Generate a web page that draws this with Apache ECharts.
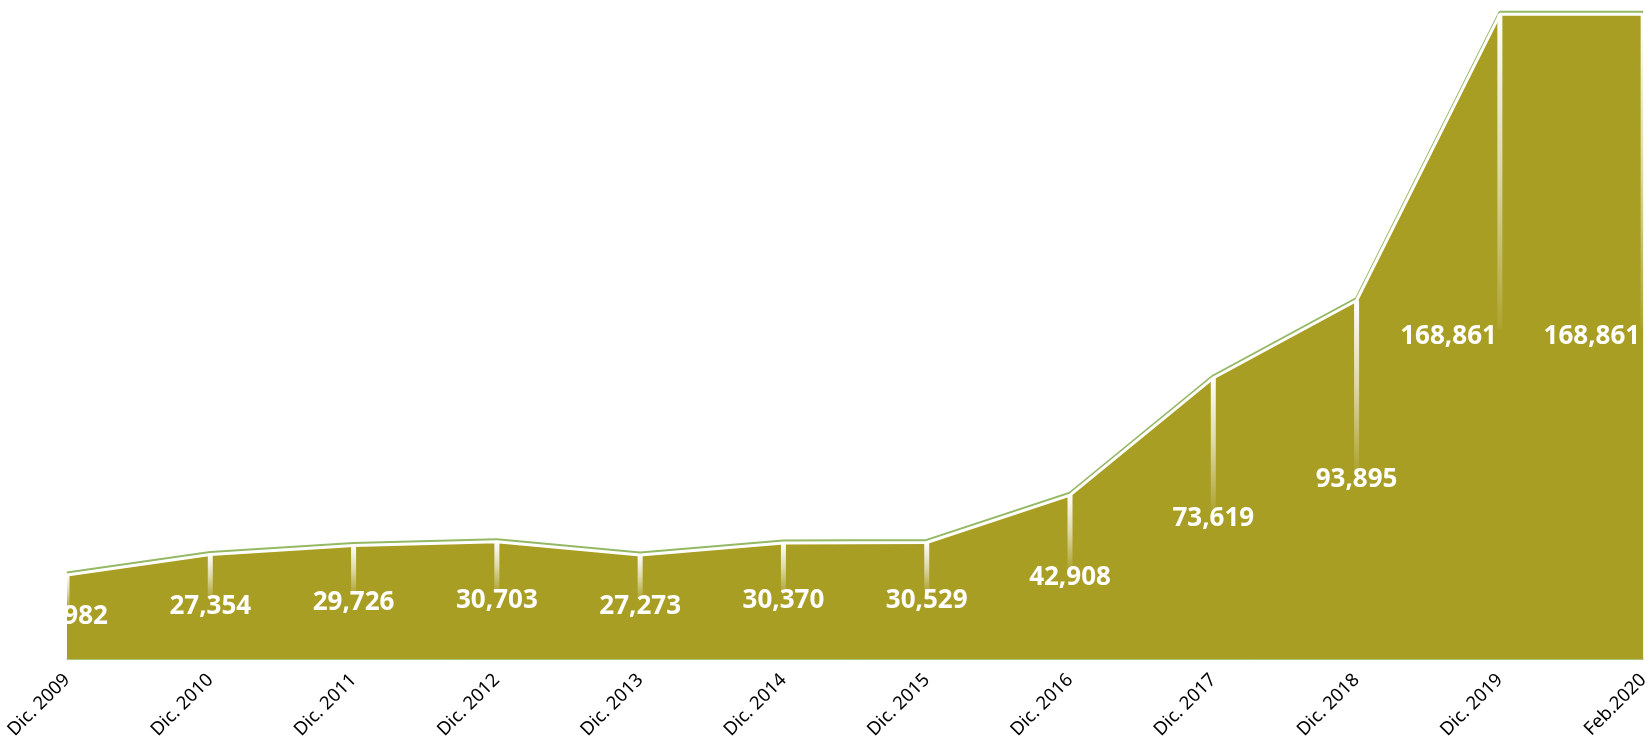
<!DOCTYPE html>
<html>
<head>
<meta charset="utf-8">
<script src="https://cdn.jsdelivr.net/npm/echarts@6/dist/echarts.min.js"></script>
<style>
html,body{margin:0;padding:0;background:#fff;}
#chart{width:1652px;height:742px;}
</style>
</head>
<body>
<div id="chart"></div>
<script>
const categories = ['Dic. 2009','Dic. 2010','Dic. 2011','Dic. 2012','Dic. 2013','Dic. 2014','Dic. 2015','Dic. 2016','Dic. 2017','Dic. 2018','Dic. 2019','Feb.2020'];
const values = [21982, 27354, 29726, 30703, 27273, 30370, 30529, 42908, 73619, 93895, 168861, 168861];

const chart = echarts.init(document.getElementById('chart'));
const dropGradient = new echarts.graphic.LinearGradient(0, 0, 0, 1, [
  {offset: 0, color: 'rgba(255,255,255,1)'},
  {offset: 0.5, color: 'rgba(255,255,255,0.6)'},
  {offset: 1, color: 'rgba(255,255,255,0.05)'}
]);

chart.setOption({
  animation: false,
  grid: {left: 67, right: 6, top: 10, bottom: 83},
  xAxis: {
    type: 'category',
    data: categories,
    boundaryGap: false,
    axisLine: {lineStyle: {color: '#a9c47f', width: 1}},
    axisTick: {show: false},
    axisLabel: {rotate: 45, color: '#000', fontSize: 18.5, fontFamily: 'Noto Sans', margin: 18, interval: 0}
  },
  yAxis: {
    type: 'value', min: 0, max: 170000, show: false,
    splitLine: {show: false}
  },
  series: [
    {
      type: 'line',
      data: values,
      symbol: 'none',
      z: 2,
      lineStyle: {color: '#ffffff', width: 3, shadowColor: '#94b863', shadowBlur: 0, shadowOffsetY: -2},
      areaStyle: {color: '#a99e24', opacity: 1}
    },
    {
      type: 'custom',
      z: 3,
      clip: true,
      data: values.map((v, i) => [i, v]),
      renderItem: function (params, api) {
        const i = api.value(0), v = api.value(1);
        const top = api.coord([i, v]);
        const mid = api.coord([i, v / 2]);
        const n = values.length;
        // the last two labels sit to the left of their points (as in the source)
        const rightAligned = i >= n - 2;
        return {
          type: 'group',
          children: [
            {
              type: 'rect',
              shape: {x: top[0] - 2.5, y: top[1], width: 5, height: Math.max(0, mid[1] - top[1] - 8)},
              style: {fill: dropGradient}
            },
            {
              type: 'text',
              x: rightAligned ? mid[0] - 3 : mid[0], y: mid[1],
              style: {
                text: v.toLocaleString('en-US'),
                fill: '#ffffff',
                font: 'bold 26px "Noto Sans"',
                align: rightAligned ? 'right' : 'center',
                verticalAlign: 'middle'
              }
            }
          ]
        };
      }
    }
  ]
});
</script>
</body>
</html>
